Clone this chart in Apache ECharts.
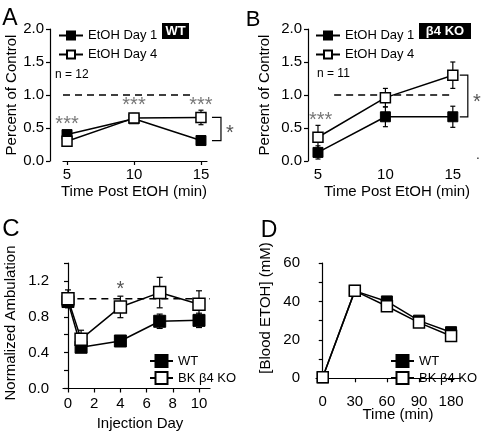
<!DOCTYPE html>
<html><head><meta charset="utf-8">
<script src="https://cdn.jsdelivr.net/npm/echarts@6/dist/echarts.min.js"></script>
<style>html,body{margin:0;padding:0;background:#fff}#c{width:482px;height:436px}</style>
</head><body><div id="c"></div>
<script>
// ---------- data ----------
const timeAB = [5, 10, 15];
const timeTicksAB = [5, 10, 15];
const aDay1 = [0.40, 0.64, 0.31];
const aDay1Err = [0.04, 0.06, 0.03];
const aDay4 = [0.30, 0.65, 0.66];
const aDay4Err = [0.04, 0.07, 0.11];
const bDay1 = [0.13, 0.67, 0.67];
const bDay1Err = [0.10, 0.15, 0.16];
const bDay4 = [0.36, 0.96, 1.30];
const bDay4Err = [0.18, 0.14, 0.20];

const daysC = [0, 1, 4, 7, 10];
const dayTicksC = [0, 2, 4, 6, 8, 10];
const cWT = [0.97, 0.46, 0.53, 0.75, 0.76];
const cWTErr = [0.05, 0.04, 0.05, 0.08, 0.08];
const cKO = [1.00, 0.55, 0.91, 1.07, 0.94];
const cKOErr = [0.10, 0.10, 0.12, 0.17, 0.15];

const timeCatsD = ['0', '30', '60', '90', '180'];
const dWT = [0.5, 45.5, 40.0, 30.0, 24.0];
const dWTErr = [0.5, 1.0, 1.0, 1.0, 1.0];
const dKO = [0.5, 45.5, 37.5, 29.0, 22.0];
const dKOErr = [0.5, 1.0, 2.0, 2.0, 2.0];

const refLevel = 1.0;

// ---------- helpers ----------
const FONT = '"Liberation Sans", Arial, Helvetica, sans-serif';
const pts = (xs, ys) => xs.map((x, i) => [x, ys[i]]);

function lineSeries(name, gi, xs, ys, filled, size) {
  return {
    type: 'line', name, xAxisIndex: gi, yAxisIndex: gi, z: 5,
    data: pts(xs, ys), symbol: 'rect', symbolSize: size,
    lineStyle: { color: '#000', width: 1.5 },
    itemStyle: filled ? { color: '#000', borderColor: '#000', borderWidth: 1 }
                      : { color: '#fff', borderColor: '#000', borderWidth: 1.5 },
    emphasis: { disabled: true }, animation: false
  };
}
function errSeries(gi, xs, ys, es, cap) {
  return {
    type: 'custom', xAxisIndex: gi, yAxisIndex: gi, z: 2, silent: true, animation: false,
    data: xs.map((x, i) => [x, ys[i] - es[i], ys[i] + es[i]]),
    encode: { x: 0, y: [1, 2] },
    renderItem(params, api) {
      const lo = api.coord([api.value(0), api.value(1)]);
      const hi = api.coord([api.value(0), api.value(2)]);
      const w = cap / 2, st = { stroke: '#000', lineWidth: 1.2 };
      return { type: 'group', children: [
        { type: 'line', shape: { x1: lo[0], y1: lo[1], x2: hi[0], y2: hi[1] }, style: st },
        { type: 'line', shape: { x1: lo[0] - w, y1: lo[1], x2: lo[0] + w, y2: lo[1] }, style: st },
        { type: 'line', shape: { x1: hi[0] - w, y1: hi[1], x2: hi[0] + w, y2: hi[1] }, style: st }
      ]};
    }
  };
}
function refSeries(gi, x0, x1) {
  return {
    type: 'line', xAxisIndex: gi, yAxisIndex: gi, z: 1, symbol: 'none', silent: true,
    data: [[x0, refLevel], [x1, refLevel]],
    lineStyle: { color: '#000', width: 1.5, type: [7, 5] }, animation: false
  };
}
function textSeries(gi, items, size, color) {
  return {
    type: 'custom', xAxisIndex: gi, yAxisIndex: gi, z: 6, silent: true, animation: false,
    data: items,
    renderItem(params, api) {
      const p = api.coord([api.value(0), api.value(1)]);
      return { type: 'text', x: p[0], y: p[1],
        style: { text: items[params.dataIndex][2], font: size + 'px ' + FONT, fill: color,
                 align: 'center', verticalAlign: 'middle' } };
    }
  };
}
function bracketSeries(gi, x, yTop, yBot, d1, d2, starDx, starDy) {
  return {
    type: 'custom', xAxisIndex: gi, yAxisIndex: gi, z: 6, silent: true, animation: false,
    data: [[x, yTop, yBot]],
    renderItem(params, api) {
      const t = api.coord([api.value(0), api.value(1)]);
      const b = api.coord([api.value(0), api.value(2)]);
      const st = { stroke: '#000', lineWidth: 1.2, fill: null };
      return { type: 'group', children: [
        { type: 'polyline', shape: { points: [[t[0] + d1, t[1]], [t[0] + d2, t[1]], [t[0] + d2, b[1]], [t[0] + d1, b[1]]] }, style: st },
        { type: 'text', x: t[0] + starDx, y: (t[1] + b[1]) / 2 + starDy,
          style: { text: '*', font: '20px ' + FONT, fill: '#555', align: 'center', verticalAlign: 'middle' } }
      ]};
    }
  };
}
const axLine = { show: true, lineStyle: { color: '#000', width: 1.2 } };
const axTick = { show: true, length: 4, lineStyle: { color: '#000', width: 1.2 } };
const lbl = { color: '#000', fontSize: 15, fontFamily: FONT };

function yAx(gi, max, interval, offset, labelEvery, digits) {
  return {
    type: 'value', gridIndex: gi, min: 0, max, interval, offset,
    axisLine: axLine, axisTick: axTick, splitLine: { show: false },
    axisLabel: Object.assign({}, lbl, { margin: 6,
      formatter: v => (Math.round(v / interval) % labelEvery === 0) ? v.toFixed(digits) : '' })
  };
}
function xAx(gi, min, max, ticks, showLine, offset, fmt) {
  return {
    type: 'value', gridIndex: gi, min, max, offset: offset || 0,
    axisLine: { show: showLine, lineStyle: { color: '#000', width: 1.2 } },
    axisTick: { show: showLine, length: 4, customValues: ticks, lineStyle: { color: '#000', width: 1.2 } },
    splitLine: { show: false },
    axisLabel: Object.assign({}, lbl, { margin: 6, customValues: ticks, formatter: fmt || (v => String(v)) })
  };
}
function gtext(text, x, y, size, opts) {
  opts = opts || {};
  return { type: 'text', x, y, rotation: opts.rot || 0, z: 10,
    style: { text, font: (opts.bold ? 'bold ' : '') + size + 'px ' + FONT, fill: opts.color || '#000',
             align: opts.align || 'center', verticalAlign: 'middle' } };
}
const legendSmall = { orient: 'vertical', itemWidth: 24, itemHeight: 10, itemGap: 6,
  textStyle: { fontSize: 13, fontFamily: FONT, color: '#000' }, selectedMode: false };
const legendBig = { orient: 'vertical', itemWidth: 23, itemHeight: 15, itemGap: 3,
  textStyle: { fontSize: 13, fontFamily: FONT, color: '#000' }, selectedMode: false };

const dIdx = timeCatsD.map((_, i) => i);

const option = {
  animation: false,
  backgroundColor: '#fff',
  grid: [
    { left: 63, top: 29, width: 144, height: 132 },
    { left: 308, top: 29, width: 161, height: 132 },
    { left: 63, top: 263, width: 147, height: 125.5 },
    { left: 316, top: 263, width: 145, height: 115.3 }
  ],
  xAxis: [
    xAx(0, 4.7, 15.45, timeTicksAB, true),
    xAx(1, 4.26, 16.2, timeTicksAB, false),
    xAx(2, -0.38, 10.84, dayTicksC, true, 1.5),
    xAx(3, -0.21, 4.31, dIdx, true, 10, v => timeCatsD[Math.round(v)])
  ],
  yAxis: [
    yAx(0, 2.0, 0.5, 13, 1, 1),
    yAx(1, 2.0, 0.5, 0, 1, 1),
    yAx(2, 1.4, 0.2, 8, 2, 1),
    yAx(3, 60, 10, 10, 2, 0)
  ],
  legend: [
    Object.assign({}, legendSmall, { left: 53, top: 24, data: ['EtOH Day 1', 'EtOH Day 4'] }),
    Object.assign({}, legendSmall, { left: 310, top: 24, data: ['EtOH Day 1', 'EtOH Day 4'] }),
    Object.assign({}, legendBig, { left: 144, top: 349, data: ['WT', 'BK β4 KO'] }),
    Object.assign({}, legendBig, { left: 385, top: 349, data: ['WT', 'BK β4 KO'] })
  ],
  series: [
    refSeries(0, 4.7, 14.2),
    errSeries(0, timeAB, aDay1, aDay1Err, 5), errSeries(0, timeAB, aDay4, aDay4Err, 5),
    lineSeries('EtOH Day 1', 0, timeAB, aDay1, true, 10),
    lineSeries('EtOH Day 4', 0, timeAB, aDay4, false, 10),
    textSeries(0, [[5, 0.55, '***'], [10, 0.84, '***'], [15, 0.84, '***']], 20, '#777'),
    bracketSeries(0, 15, aDay4[2], aDay1[2], 11, 20, 29, 4),

    refSeries(1, 6.2, 14.78),
    errSeries(1, timeAB, bDay1, bDay1Err, 5), errSeries(1, timeAB, bDay4, bDay4Err, 5),
    lineSeries('EtOH Day 1', 1, timeAB, bDay1, true, 10),
    lineSeries('EtOH Day 4', 1, timeAB, bDay4, false, 10),
    textSeries(1, [[5.2, 0.61, '***']], 20, '#777'),
    bracketSeries(1, 15, bDay4[2], bDay1[2], 7, 15, 24, 6),

    refSeries(2, -0.2, 10.84),
    errSeries(2, daysC, cWT, cWTErr, 6), errSeries(2, daysC, cKO, cKOErr, 6),
    lineSeries('WT', 2, daysC, cWT, true, 12),
    lineSeries('BK β4 KO', 2, daysC, cKO, false, 12),
    textSeries(2, [[4, 1.105, '*']], 20, '#555'),

    errSeries(3, dIdx, dWT, dWTErr, 4), errSeries(3, dIdx, dKO, dKOErr, 4),
    lineSeries('WT', 3, dIdx, dWT, true, 11),
    lineSeries('BK β4 KO', 3, dIdx, dKO, false, 11)
  ],
  graphic: [
    gtext('A', 10, 19, 23), gtext('B', 253, 20, 22), gtext('C', 11, 229, 24), gtext('D', 269, 231, 23),
    gtext('Percent of Control', 12, 95, 15, { rot: Math.PI / 2 }),
    gtext('Time Post EtOH (min)', 134, 192, 15),
    gtext('Percent of Control', 264.5, 95, 15, { rot: Math.PI / 2 }),
    gtext('Time Post EtOH (min)', 397, 192, 15),
    gtext('Normalized Ambulation', 11, 323, 15, { rot: Math.PI / 2 }),
    gtext('Injection Day', 140, 424, 15),
    gtext('[Blood ETOH] (mM)', 266, 308, 15, { rot: Math.PI / 2 }),
    gtext('Time (min)', 398, 415, 15),
    { type: 'rect', shape: { x: 162, y: 23, width: 27, height: 16 }, style: { fill: '#000' }, z: 9 },
    gtext('WT', 175.5, 31.5, 13, { bold: true, color: '#fff' }),
    { type: 'rect', shape: { x: 419, y: 23, width: 52, height: 16 }, style: { fill: '#000' }, z: 9 },
    gtext('β4 KO', 445, 31.5, 13, { bold: true, color: '#fff' }),
    gtext('n = 12', 55, 75, 12, { align: 'left' }),
    gtext('n = 11', 317, 74, 12, { align: 'left' }),
    gtext('.', 478, 156, 12)
  ]
};
const chart = echarts.init(document.getElementById('c'), null, { renderer: 'canvas' });
chart.setOption(option);
</script></body></html>
